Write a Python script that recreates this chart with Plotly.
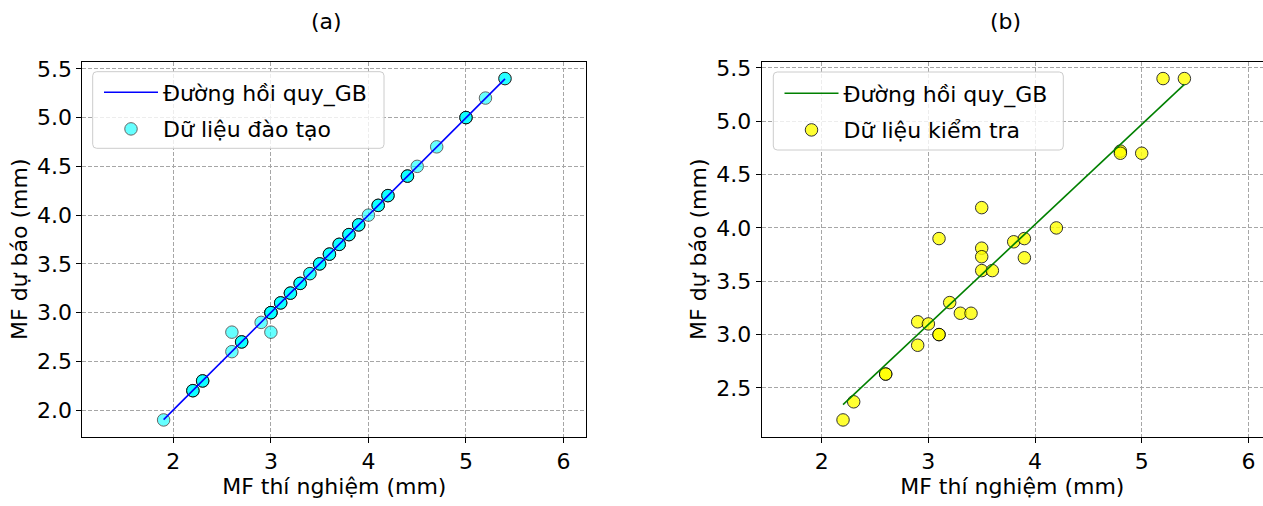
import numpy as np
import plotly.graph_objects as go

# ---- (a) training set: measured vs predicted MF (mm), with repeat counts
train_measured = [1.9, 2.2, 2.3, 2.6, 2.6, 2.7, 2.9, 3.0, 3.0, 3.1, 3.2, 3.3, 3.4, 3.5,
                  3.6, 3.7, 3.8, 3.9, 4.0, 4.1, 4.2, 4.4, 4.5, 4.7, 5.0, 5.2, 5.4]
train_predicted = [1.9, 2.2, 2.3, 2.8, 2.6, 2.7, 2.9, 2.8, 3.0, 3.1, 3.2, 3.3, 3.4, 3.5,
                   3.6, 3.7, 3.8, 3.9, 4.0, 4.1, 4.2, 4.4, 4.5, 4.7, 5.0, 5.2, 5.4]
train_counts = [1, 3, 3, 1, 1, 3, 1, 1, 4, 3, 3, 3, 2, 3,
                3, 3, 3, 3, 1, 3, 3, 3, 1, 1, 3, 1, 2]

# ---- (b) test set: measured vs predicted MF (mm)
test_measured = [5.2, 5.4, 4.8, 4.8, 5.0, 3.5, 4.2, 3.1, 3.8, 3.9, 3.5, 3.5, 3.9, 3.5,
                 3.6, 3.2, 2.9, 3.0, 3.3, 3.4, 3.1, 3.1, 2.9, 2.6, 2.6, 2.3, 2.2]
test_predicted = [5.40, 5.40, 4.72, 4.70, 4.70, 4.19, 4.00, 3.90, 3.87, 3.90, 3.81, 3.73, 3.72, 3.60,
                  3.60, 3.30, 3.12, 3.10, 3.20, 3.20, 3.00, 3.00, 2.90, 2.63, 2.63, 2.37, 2.20]

xa = np.repeat(train_measured, train_counts)
ya = np.repeat(train_predicted, train_counts)
xb = np.array(test_measured)
yb = np.array(test_predicted)

W, H = 1263, 506
FONT = "DejaVu Sans"
FS = 22

# axes boxes in pixels (left, right, top, bottom)
box_a = (82.3, 586.3, 61.5, 437.0)
box_b = (761.7, 1265.7, 61.5, 437.0)   # right side runs past the page edge

# legend frames in pixels (left, right, top, bottom)
frame_a = (92.7, 384.0, 71.7, 148.3)
frame_b = (773.3, 1063.3, 72.0, 150.0)


def fit_line(x, y):
    k, b = np.polyfit(x, y, 1)
    xs = np.array([x.min(), x.max()])
    return xs, k * xs + b


def equal_ranges(x, y, box):
    """Data-limit ranges with 5% y padding and equal x/y scaling."""
    l, r, t, btm = box
    y0, y1 = y.min(), y.max()
    pad = 0.05 * (y1 - y0)
    y0, y1 = y0 - pad, y1 + pad
    ppu = (btm - t) / (y1 - y0)
    xc = (x.min() + x.max()) / 2
    half = (r - l) / 2 / ppu
    return (xc - half, xc + half), (y0, y1), ppu


def rounded_frame(frame, rad=4.0):
    """SVG path (paper units) for a rounded rectangle given in pixels."""
    l, r, t, b = frame
    px = lambda v: v / W
    py = lambda v: 1 - v / H
    return (f"M{px(l + rad)},{py(t)} L{px(r - rad)},{py(t)} "
            f"Q{px(r)},{py(t)} {px(r)},{py(t + rad)} L{px(r)},{py(b - rad)} "
            f"Q{px(r)},{py(b)} {px(r - rad)},{py(b)} L{px(l + rad)},{py(b)} "
            f"Q{px(l)},{py(b)} {px(l)},{py(b - rad)} L{px(l)},{py(t + rad)} "
            f"Q{px(l)},{py(t)} {px(l + rad)},{py(t)} Z")


xr_a, yr_a, ppu_a = equal_ranges(xa, ya, box_a)
xr_b, yr_b, ppu_b = equal_ranges(xb, yb, box_b)
# clip the right panel at the page edge
xr_b = (xr_b[0], xr_b[0] + (W - box_b[0]) / ppu_b)

fxa, fya = fit_line(xa, ya)
fxb, fyb = fit_line(xb, yb)

fig = go.Figure()

fig.add_trace(go.Scatter(
    x=xa, y=ya, mode="markers", name="Dữ liệu đào tạo",
    marker=dict(size=12.5, color="cyan", opacity=0.6, line=dict(color="black", width=1)),
    xaxis="x", yaxis="y", legend="legend", legendrank=2, legendgroup="a2",
))
fig.add_trace(go.Scatter(
    x=fxa, y=fya, mode="lines", name="Đường hồi quy_GB",
    line=dict(color="blue", width=1.6),
    xaxis="x", yaxis="y", legend="legend", legendrank=1, legendgroup="a1",
))
fig.add_trace(go.Scatter(
    x=xb, y=yb, mode="markers", name="Dữ liệu kiểm tra",
    marker=dict(size=12.5, color="yellow", opacity=0.8, line=dict(color="black", width=1)),
    xaxis="x2", yaxis="y2", legend="legend2", legendrank=2, legendgroup="b2",
))
fig.add_trace(go.Scatter(
    x=fxb, y=fyb, mode="lines", name="Đường hồi quy_GB",
    line=dict(color="green", width=1.6),
    xaxis="x2", yaxis="y2", legend="legend2", legendrank=1, legendgroup="b1",
))

ydom = [(H - box_a[3]) / H, (H - box_a[2]) / H]

axis_common = dict(
    automargin=False,
    showline=True, linecolor="black", linewidth=1,
    ticks="outside", ticklen=5, tickwidth=1, tickcolor="black",
    showgrid=True, gridcolor="#a6a6a6", gridwidth=0.8, griddash="4px,2px",
    zeroline=False, tickfont=dict(family=FONT, size=FS, color="black"),
    title_font=dict(family=FONT, size=FS, color="black"),
)

legend_common = dict(
    font=dict(family=FONT, size=FS, color="black"),
    bgcolor="rgba(0,0,0,0)", borderwidth=0,
    xanchor="left", yanchor="top", itemwidth=54, tracegroupgap=5,
    traceorder="grouped",
)

frame_style = dict(type="path", xref="paper", yref="paper", layer="above",
                   fillcolor="rgba(255,255,255,0.8)", line=dict(color="#cccccc", width=1))

fig.update_layout(
    width=W, height=H,
    margin=dict(l=0, r=0, t=0, b=0, autoexpand=False),
    paper_bgcolor="white", plot_bgcolor="white",
    showlegend=True,
    xaxis=dict(domain=[box_a[0] / W, box_a[1] / W], range=list(xr_a), dtick=1, tick0=0,
               mirror=True, anchor="y",
               title=dict(text="MF thí nghiệm (mm)", standoff=4), **axis_common),
    yaxis=dict(domain=ydom, range=list(yr_a), dtick=0.5, tick0=0, tickformat=".1f",
               mirror=True, anchor="x",
               title=dict(text="MF dự báo (mm)", standoff=3), **axis_common),
    xaxis2=dict(domain=[box_b[0] / W, 1.0], range=list(xr_b), dtick=1, tick0=0,
                mirror=True, anchor="y2",
                title=dict(text="MF thí nghiệm (mm)", standoff=4), **axis_common),
    yaxis2=dict(domain=ydom, range=list(yr_b), dtick=0.5, tick0=0, tickformat=".1f",
                mirror=False, anchor="x2",
                title=dict(text="MF dự báo (mm)", standoff=3), **axis_common),
    legend=dict(x=99 / W, y=1 - 71.5 / H, **legend_common),
    legend2=dict(x=779.5 / W, y=1 - 72.5 / H, **legend_common),
    shapes=[
        dict(path=rounded_frame(frame_a), **frame_style),
        dict(path=rounded_frame(frame_b), **frame_style),
    ],
    annotations=[
        dict(text="(a)", x=326 / W, y=1 - 22 / H, xref="paper", yref="paper",
             showarrow=False, xanchor="center", yanchor="middle",
             font=dict(family=FONT, size=FS, color="black")),
        dict(text="(b)", x=1005.7 / W, y=1 - 22 / H, xref="paper", yref="paper",
             showarrow=False, xanchor="center", yanchor="middle",
             font=dict(family=FONT, size=FS, color="black")),
    ],
)

fig.write_html("out.html")
